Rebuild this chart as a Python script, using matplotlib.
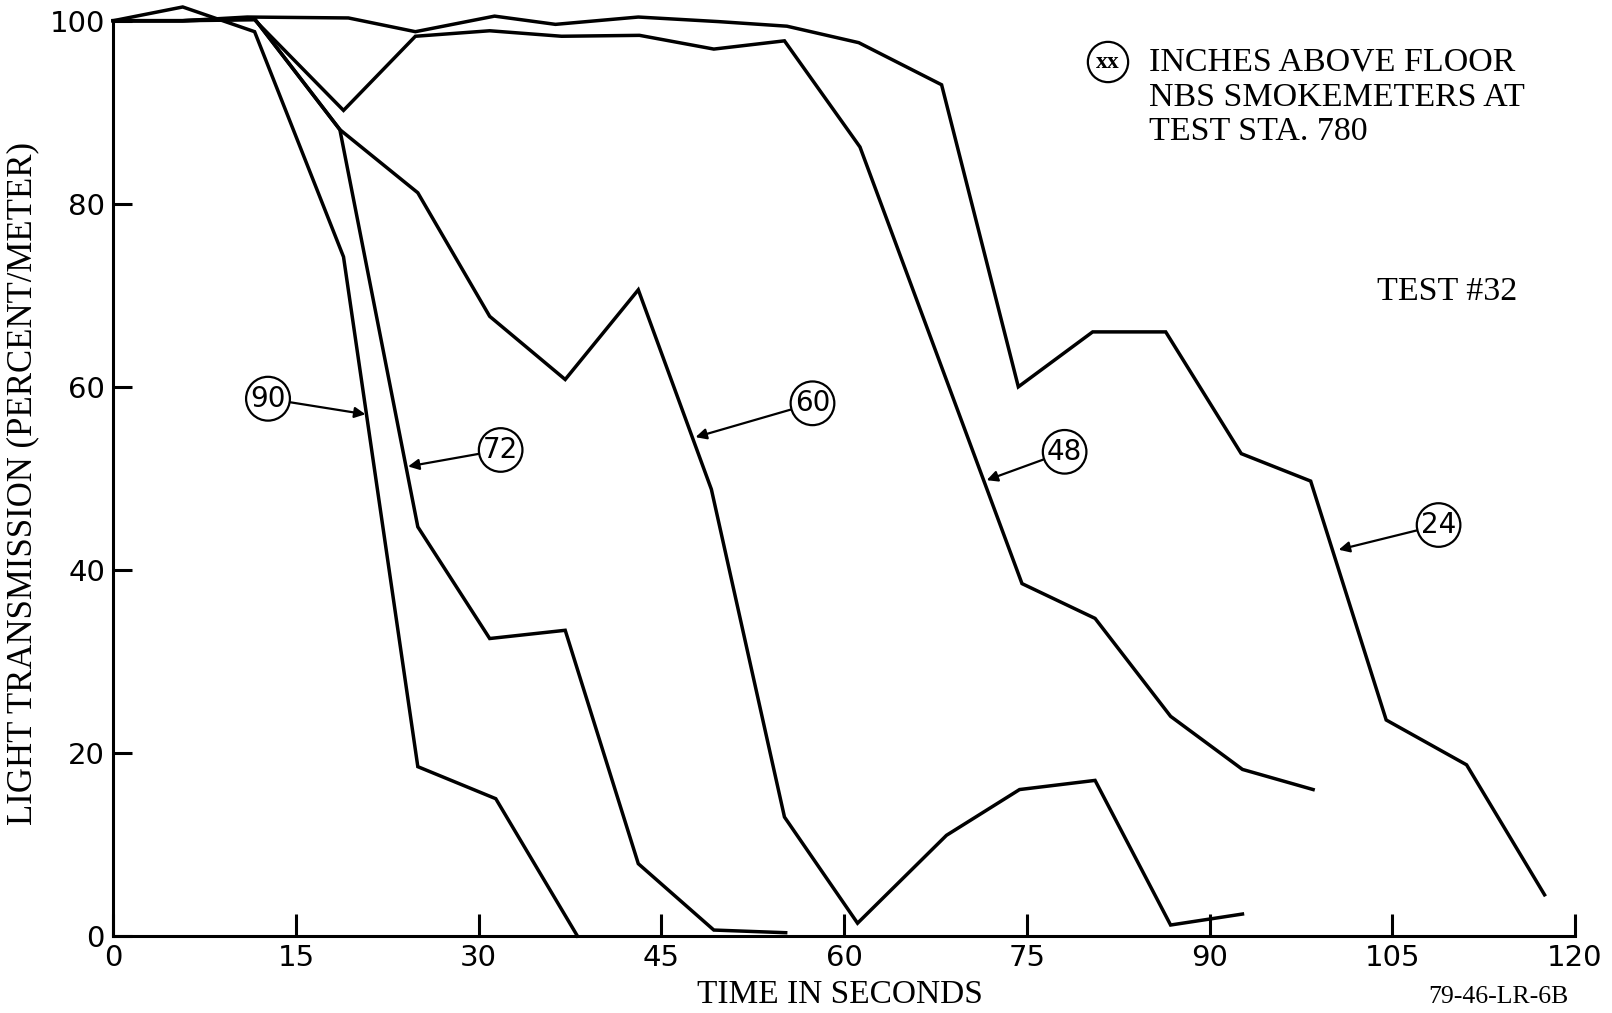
import matplotlib
matplotlib.use("Agg")
import matplotlib.pyplot as plt

# ---- data (time in seconds, light transmission %) ----
t90 = [0, 5.7, 11.6, 18.9, 25.0, 31.4, 38.1]
y90 = [100, 101.5, 98.8, 74.2, 18.5, 15.0, 0.0]

t72 = [0, 5.7, 11.6, 18.6, 25.0, 30.9, 37.1, 43.1, 49.3, 55.2]
y72 = [100, 100, 100.2, 88.1, 44.7, 32.5, 33.4, 7.9, 0.65, 0.36]

t60 = [0, 5.7, 11.6, 18.6, 25.0, 30.9, 37.1, 43.1, 49.1, 55.1, 61.1, 68.4, 74.4, 80.6, 86.8, 92.7]
y60 = [100, 100, 100.2, 88.1, 81.2, 67.7, 60.8, 70.6, 48.8, 13.0, 1.4, 11.0, 16.0, 17.0, 1.2, 2.4]

t48 = [0, 5.7, 11.6, 18.9, 24.8, 30.9, 36.8, 43.2, 49.3, 55.1, 61.3, 74.6, 80.6, 86.8, 92.7, 98.5]
y48 = [100, 100, 100.1, 90.2, 98.3, 98.9, 98.3, 98.4, 96.9, 97.8, 86.2, 38.5, 34.7, 24.0, 18.2, 16.0]

t24 = [0, 5.7, 11.0, 19.3, 24.8, 31.3, 36.3, 43.1, 49.7, 55.3, 61.2, 68.0, 74.3, 80.4, 86.4, 92.6, 98.3, 104.5, 111.1, 117.5]
y24 = [100, 100, 100.4, 100.3, 98.8, 100.5, 99.6, 100.4, 99.9, 99.4, 97.6, 93.0, 60.0, 66.0, 66.0, 52.7, 49.7, 23.6, 18.7, 4.5]

series = {"90": (t90, y90), "72": (t72, y72), "60": (t60, y60), "48": (t48, y48), "24": (t24, y24)}

# label circles: (text, label position, arrow tip)
labels = ["90", "72", "60", "48", "24"]
label_xy = [(12.7, 58.7), (31.8, 53.1), (57.4, 58.2), (78.1, 52.9), (108.8, 44.9)]
tip_xy = [(20.7, 57.0), (24.2, 51.3), (47.8, 54.5), (71.7, 49.8), (100.6, 42.2)]

xticks = [0, 15, 30, 45, 60, 75, 90, 105, 120]
yticks = [0, 20, 40, 60, 80, 100]

# ---- figure ----
W, H = 1612, 1013
fig = plt.figure(figsize=(W / 100, H / 100), dpi=100)
ax = fig.add_axes([113.3 / W, 1 - 936 / H, (1575 - 113.3) / W, (936 - 20.7) / H])

num_font = ["DejaVu Sans"]
serif_font = ["Liberation Serif", "DejaVu Serif"]

for key, (tx, ty) in series.items():
    ax.plot(tx, ty, color="black", lw=2.5, solid_joinstyle="miter", clip_on=False)

ax.set_xlim(0, 120)
ax.set_ylim(0, 100)
for s in ["top", "right"]:
    ax.spines[s].set_visible(False)
for s in ["left", "bottom"]:
    ax.spines[s].set_linewidth(2.2)

ax.set_xticks(xticks)
ax.set_yticks(yticks)
ax.set_xticklabels([str(v) for v in xticks], fontfamily=num_font, fontsize=21)
ax.set_yticklabels([str(v) for v in yticks], fontfamily=num_font, fontsize=21)
ax.tick_params(axis="x", direction="in", length=16, width=2.2, pad=6)
ax.tick_params(axis="y", direction="in", length=14, width=2.2, pad=6)

for lab, (lx, ly), (px, py) in zip(labels, label_xy, tip_xy):
    ax.annotate(lab, xy=(px, py), xytext=(lx, ly), ha="center", va="center",
                fontsize=20, fontfamily=num_font,
                bbox=dict(boxstyle="circle,pad=0.15", fc="white", ec="black", lw=1.6),
                arrowprops=dict(arrowstyle="-|>", lw=1.6, color="black",
                                mutation_scale=16, shrinkA=0, shrinkB=0))

# legend-like notes
fig.text(1108 / W, 1 - 62 / H, "xx", ha="center", va="center", fontsize=17,
         fontfamily=serif_font, fontweight="bold",
         bbox=dict(boxstyle="circle,pad=0.35", fc="white", ec="black", lw=1.6))
fig.text(1149 / W, 1 - 62 / H, "INCHES ABOVE FLOOR", ha="left", va="center",
         fontsize=24.5, fontfamily=serif_font)
fig.text(1149 / W, 1 - 98 / H, "NBS SMOKEMETERS AT", ha="left", va="center",
         fontsize=24.5, fontfamily=serif_font)
fig.text(1149 / W, 1 - 132 / H, "TEST STA. 780", ha="left", va="center",
         fontsize=24.5, fontfamily=serif_font)
fig.text(1377 / W, 1 - 292 / H, "TEST #32", ha="left", va="center",
         fontsize=24.5, fontfamily=serif_font)

fig.text(840 / W, 1 - 995 / H, "TIME IN SECONDS", ha="center", va="center",
         fontsize=24, fontfamily=serif_font)
fig.text(23 / W, 1 - 483 / H, "LIGHT TRANSMISSION (PERCENT/METER)", ha="center",
         va="center", rotation=90, fontsize=25, fontfamily=serif_font)
fig.text(1498 / W, 1 - 997 / H, "79-46-LR-6B", ha="center", va="center",
         fontsize=18.5, fontfamily=serif_font)

fig.savefig("out.png", dpi=100, facecolor="white")
